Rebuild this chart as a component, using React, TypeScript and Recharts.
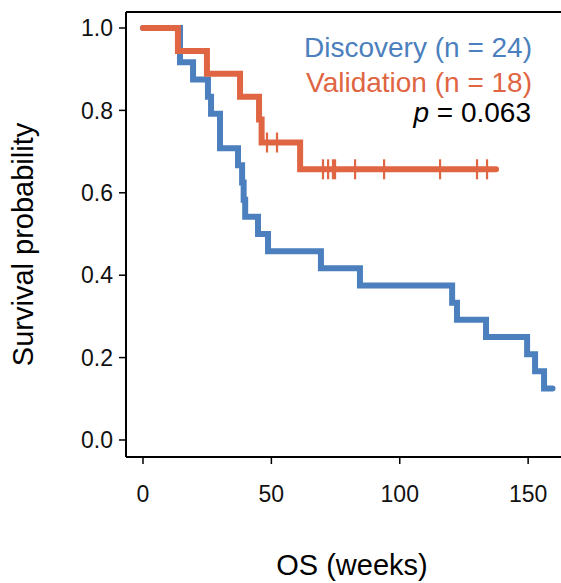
import {
  ComposedChart,
  Line,
  Scatter,
  XAxis,
  YAxis,
  ReferenceLine,
} from 'recharts';

const BLUE = '#4B7FBD';
const RED = '#E06542';
const FONT = '"Liberation Sans", Arial, sans-serif';

// Discovery cohort (n = 24), Kaplan-Meier steps
const discoveryTimes = [0, 14.4, 19.5, 25.3, 26.5, 30.0, 37.0, 38.6, 39.2, 39.8, 44.8, 48.7, 69.3, 84.5, 120.4, 122.3, 133.6, 149.6, 152.7, 156.2, 159.5];
const discoverySurvival = [1, 0.917, 0.875, 0.833, 0.792, 0.708, 0.667, 0.625, 0.583, 0.542, 0.5, 0.458, 0.417, 0.375, 0.333, 0.292, 0.25, 0.208, 0.167, 0.125, 0.125];

// Validation cohort (n = 18)
const validationTimes = [0, 13.6, 24.9, 37.8, 45.2, 46.2, 61.2, 137.5];
const validationSurvival = [1, 0.944, 0.889, 0.833, 0.778, 0.722, 0.657, 0.657];
const validationCensorTimes = [48.3, 52.2, 70.1, 72.1, 74.0, 74.8, 82.6, 93.9, 115.7, 130.1, 134.0];
const validationCensorSurvival = [0.722, 0.722, 0.657, 0.657, 0.657, 0.657, 0.657, 0.657, 0.657, 0.657, 0.657];

const xTicks = [0, 50, 100, 150];
const yTicks = [0, 0.2, 0.4, 0.6, 0.8, 1.0];
const X_DOMAIN: [number, number] = [-6.62, 162.8];
const Y_DOMAIN: [number, number] = [-0.0413, 1.0388];

const toPoints = (times: number[], values: number[]) =>
  times.map((t, i) => ({ t, s: values[i] }));

const discoveryData = toPoints(discoveryTimes, discoverySurvival);
const validationData = toPoints(validationTimes, validationSurvival);
const censorData = toPoints(validationCensorTimes, validationCensorSurvival);

const CensorMark = (props: any) => {
  const { cx, cy } = props;
  if (cx == null || cy == null) return null;
  return <line x1={cx} y1={cy - 10} x2={cx} y2={cy + 10} stroke={RED} strokeWidth={2.2} />;
};

export default function App() {
  return (
    <div style={{ position: 'absolute', left: 0, top: 0, width: 561, height: 583, background: '#fff' }}>
      <ComposedChart
        width={561}
        height={583}
        margin={{ top: 12, right: 0, left: 0, bottom: 0 }}
      >
        <XAxis
          type="number"
          dataKey="t"
          domain={X_DOMAIN}
          ticks={xTicks}
          allowDataOverflow
          height={126}
          tickSize={7}
          tickMargin={22}
          axisLine={{ stroke: '#000', strokeWidth: 2 }}
          tickLine={{ stroke: '#000', strokeWidth: 1.5 }}
          tick={{ fill: '#111', fontSize: 23, fontFamily: FONT }}
        />
        <YAxis
          type="number"
          dataKey="s"
          domain={Y_DOMAIN}
          ticks={yTicks}
          allowDataOverflow
          width={126}
          tickSize={7}
          tickMargin={6}
          tickFormatter={(v: number) => v.toFixed(1)}
          axisLine={{ stroke: '#000', strokeWidth: 2 }}
          tickLine={{ stroke: '#000', strokeWidth: 1.5 }}
          tick={{ fill: '#111', fontSize: 23, fontFamily: FONT }}
        />
        <ReferenceLine y={Y_DOMAIN[1]} stroke="#000" strokeWidth={2} />
        <Line
          data={discoveryData}
          dataKey="s"
          type="stepAfter"
          stroke={BLUE}
          strokeWidth={6}
          strokeLinecap="round"
          dot={false}
          activeDot={false}
          isAnimationActive={false}
        />
        <Line
          data={validationData}
          dataKey="s"
          type="stepAfter"
          stroke={RED}
          strokeWidth={6}
          strokeLinecap="round"
          dot={false}
          activeDot={false}
          isAnimationActive={false}
        />
        <Scatter
          data={censorData}
          dataKey="s"
          shape={<CensorMark />}
          isAnimationActive={false}
        />
      </ComposedChart>
      <svg
        width={561}
        height={583}
        style={{ position: 'absolute', left: 0, top: 0, pointerEvents: 'none' }}
        fontFamily={FONT}
      >
        <text x={532} y={57} fontSize={28} fill={BLUE} textAnchor="end">
          Discovery (n = 24)
        </text>
        <text x={532} y={92} fontSize={28} fill={RED} textAnchor="end">
          Validation (n = 18)
        </text>
        <text x={531} y={122} fontSize={28} fill="#000" textAnchor="end">
          <tspan fontStyle="italic">p</tspan> = 0.063
        </text>
        <text x={352} y={575} fontSize={29} fill="#000" textAnchor="middle">
          OS (weeks)
        </text>
        <text
          x={33}
          y={244.5}
          fontSize={29}
          fill="#000"
          textAnchor="middle"
          transform="rotate(-90, 33, 244.5)"
        >
          Survival probability
        </text>
      </svg>
    </div>
  );
}
